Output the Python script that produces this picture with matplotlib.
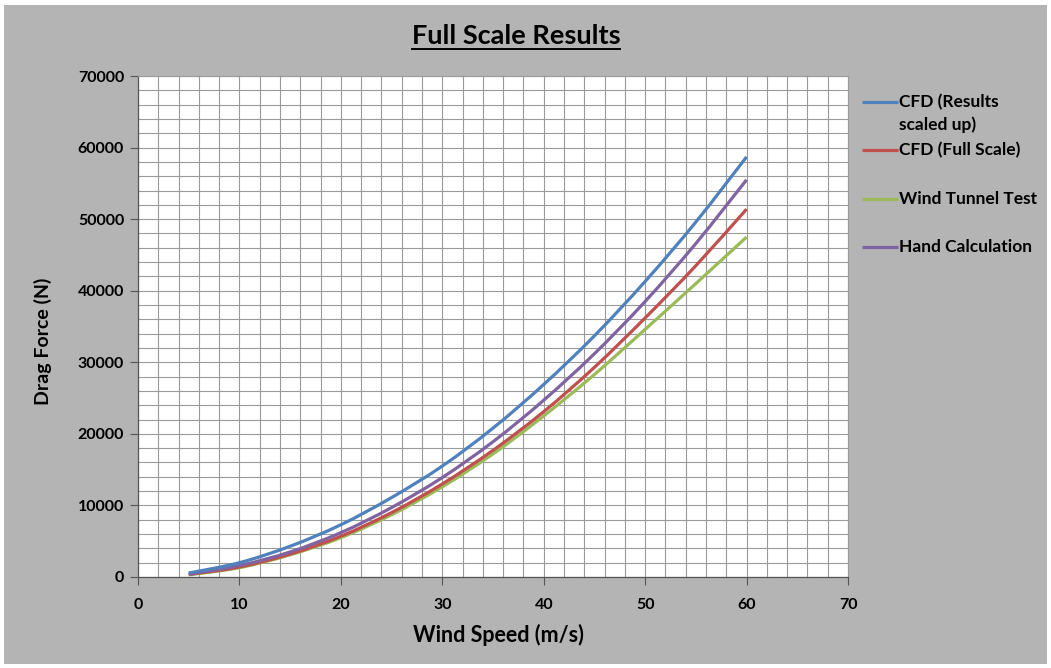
import matplotlib
matplotlib.use("Agg")
import matplotlib.pyplot as plt
from matplotlib.patches import Rectangle, PathPatch
from matplotlib.path import Path
from matplotlib.lines import Line2D
from matplotlib.ticker import MultipleLocator

plt.rcParams['font.family'] = ['Lato', 'DejaVu Sans']
plt.rcParams['font.weight'] = 'bold'

# Wind speed (m/s) and drag force (N) for each method
wind_speed = [5, 10, 15, 20, 25, 30, 35, 40, 45, 50, 55, 60]
cfd_scaled_up = [550, 2000, 4300, 7300, 11100, 15500, 20800, 26900, 33700, 41300, 49600, 58700]
cfd_full_scale = [350, 1400, 3200, 5700, 9000, 13000, 17700, 23100, 29300, 36200, 43500, 51400]
wind_tunnel = [300, 1300, 3100, 5500, 8700, 12600, 17200, 22500, 28300, 34600, 41000, 47500]
hand_calc = [400, 1600, 3500, 6200, 9700, 13900, 18900, 24700, 31200, 38500, 46600, 55500]

series_labels = ["CFD (Results\nscaled up)", "CFD (Full Scale)", "Wind Tunnel Test", "Hand Calculation"]
series_colors = ["#4F81BD", "#C0504D", "#9BBB59", "#8064A2"]

LW = 2.3


def smooth_path(xs, ys):
    """Catmull-Rom style smoothed path through the points (like a smoothed line chart)."""
    pts = list(zip(xs, ys))
    n = len(pts)
    verts = [pts[0]]
    codes = [Path.MOVETO]
    for i in range(n - 1):
        p0 = pts[max(i - 1, 0)]
        p1 = pts[i]
        p2 = pts[i + 1]
        p3 = pts[min(i + 2, n - 1)]
        c1 = (p1[0] + (p2[0] - p0[0]) / 6, p1[1] + (p2[1] - p0[1]) / 6)
        c2 = (p2[0] - (p3[0] - p1[0]) / 6, p2[1] - (p3[1] - p1[1]) / 6)
        verts += [c1, c2, p2]
        codes += [Path.CURVE4] * 3
    return Path(verts, codes)


W, H = 1051, 668
fig = plt.figure(figsize=(W / 100, H / 100), dpi=100, facecolor="white")
fig.add_artist(Rectangle((4 / W, 4 / H), 1 - 8 / W, 1 - 9 / H, transform=fig.transFigure,
                         facecolor="#b4b4b4", edgecolor="none", zorder=-10))

ax = fig.add_axes([138 / W, 1 - 577 / H, 710 / W, 501 / H])
ax.set_facecolor("white")

all_series = [cfd_scaled_up, cfd_full_scale, wind_tunnel, hand_calc]
# Draw order: wind tunnel at the bottom, then red, purple, blue on top
draw_order = [2, 1, 3, 0]
for z, i in enumerate(draw_order):
    patch = PathPatch(smooth_path(wind_speed, all_series[i]), facecolor="none",
                      edgecolor=series_colors[i], lw=LW, capstyle="butt",
                      joinstyle="round", zorder=3 + z)
    ax.add_patch(patch)

ax.set_xlim(0, 70)
ax.set_ylim(0, 70000)
ax.xaxis.set_major_locator(MultipleLocator(10))
ax.yaxis.set_major_locator(MultipleLocator(10000))
ax.xaxis.set_minor_locator(MultipleLocator(2))
ax.yaxis.set_minor_locator(MultipleLocator(2000))
ax.grid(True, which="both", color="#9a9a9a", lw=0.8, zorder=0)
ax.set_axisbelow(True)
ax.tick_params(which="minor", length=0)
ax.tick_params(which="major", direction="out", length=6, width=0.8, color="#555555",
               labelsize=11.5)
ax.tick_params(axis="x", pad=9)
ax.tick_params(axis="y", pad=4)
for lbl in ax.get_xticklabels() + ax.get_yticklabels():
    lbl.set_fontweight("bold")

for side in ("left", "bottom"):
    ax.spines[side].set_color("#555555")
    ax.spines[side].set_linewidth(0.9)
for side in ("top", "right"):
    ax.spines[side].set_color("#9a9a9a")
    ax.spines[side].set_linewidth(0.8)

fig.text(498 / W, 1 - 635 / H, "Wind Speed (m/s)", ha="center", va="center",
         fontsize=15.5, fontweight="bold")
fig.text(43 / W, 1 - 341 / H, "Drag Force (N)", ha="center", va="center",
         rotation=90, fontsize=14, fontweight="bold")

title = fig.text(516 / W, 1 - 36 / H, "Full Scale Results", ha="center", va="center",
                 fontsize=19.5, fontweight="bold")

# Legend to the right of the plot area
legend_rows = [102, 150, 199, 247]
for i, yrow in enumerate(legend_rows):
    yf = 1 - yrow / H
    fig.add_artist(Line2D([862 / W, 898 / W], [yf, yf], transform=fig.transFigure,
                          color=series_colors[i], lw=LW, solid_capstyle="butt"))
    lines = series_labels[i].split("\n")
    for k, part in enumerate(lines):
        fig.text(899 / W, 1 - (yrow + 23 * k) / H, part, ha="left", va="center",
                 fontsize=12.5, fontweight="bold")

# Underline the title
fig.canvas.draw()
bb = title.get_window_extent().transformed(fig.transFigure.inverted())
uy = bb.y0 - 1.5 / H
fig.add_artist(Line2D([bb.x0, bb.x1], [uy, uy], transform=fig.transFigure,
                      color="black", lw=1.4))

fig.savefig("out.png", dpi=100, facecolor=fig.get_facecolor())
